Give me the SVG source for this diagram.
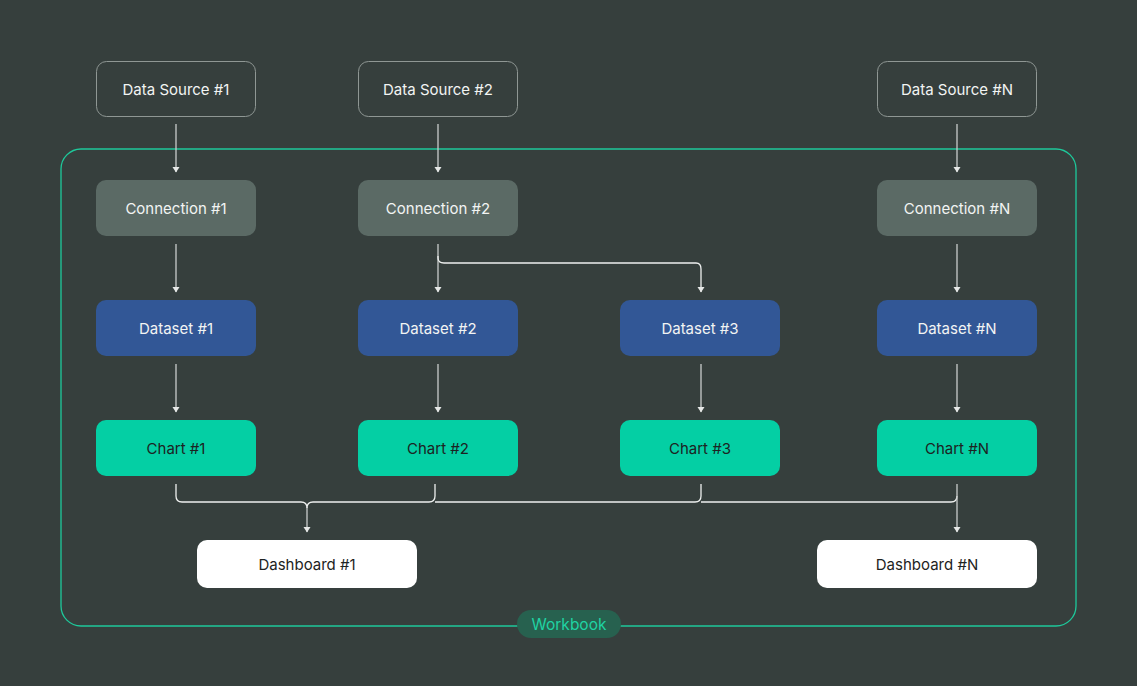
<svg xmlns="http://www.w3.org/2000/svg" width="1137" height="686" viewBox="0 0 1137 686">
<defs>
<style>
.lbl{font-family:Inter,"Liberation Sans",sans-serif;font-size:15px;text-anchor:middle;dominant-baseline:central}
.src{fill:none;stroke:#8f9794;stroke-width:1}
.conn{fill:#5b6a65}
.ds{fill:#325796}
.ch{fill:#04cfa4}
.db{fill:#ffffff}
.w{fill:#f2f4f3}
.k{fill:#1d2322}
.edge{fill:none;stroke:#c9cdcc;stroke-width:1.3}
.bus{fill:none;stroke:#eef0ef;stroke-width:1.3}
</style>
<marker id="arr" viewBox="0 0 8 8" refX="4" refY="6" markerWidth="8" markerHeight="8" orient="auto-start-reverse" markerUnits="userSpaceOnUse">
<path d="M0.5,2 L7.5,2 L4,7 Z" fill="#e6e8e7" transform="rotate(-90 4 4)"/>
</marker>
<marker id="tri" viewBox="0 0 8 6" refX="4" refY="5" markerWidth="8" markerHeight="6" orient="0" markerUnits="userSpaceOnUse">
<path d="M0.5,0 L7.5,0 L4,5.5 Z" fill="#e6e8e7"/>
</marker>
</defs>
<rect width="1137" height="686" fill="#363f3d"/>
<g id="workbook">
<rect x="61" y="149" width="1015" height="477" rx="20" fill="none" stroke="#1ec99b" stroke-width="1.3"/>
<rect x="517" y="610" width="104" height="28" rx="14" fill="#27614f"/>
<text class="lbl" x="569" y="624" fill="#1fd3a3" style="font-size:15.5px">Workbook</text>
</g>
<g id="connectors">
<path class="edge" d="M176,124V172" marker-end="url(#tri)"/>
<path class="edge" d="M438,124V172" marker-end="url(#tri)"/>
<path class="edge" d="M957,124V172" marker-end="url(#tri)"/>
<path class="edge" d="M176,244V292" marker-end="url(#tri)"/>
<path class="edge" d="M438,244V292" marker-end="url(#tri)"/>
<path class="edge" d="M957,244V292" marker-end="url(#tri)"/>
<path class="bus" d="M438,256V258Q438,263 444,263H696Q701,263 701,269V292" marker-end="url(#tri)"/>
<path class="edge" d="M176,364V412" marker-end="url(#tri)"/>
<path class="edge" d="M438,364V412" marker-end="url(#tri)"/>
<path class="edge" d="M701,364V412" marker-end="url(#tri)"/>
<path class="edge" d="M957,364V412" marker-end="url(#tri)"/>
<path class="bus" d="M176,484V496Q176,502 182,502H301Q307,502 307,508"/>
<path class="bus" d="M435,484V496Q435,502 429,502H313Q307,502 307,508"/>
<path class="bus" d="M701,484V496Q701,502 695,502H435"/>
<path class="bus" d="M957,496Q957,502 951,502H701"/>
<path class="edge" d="M307,506V532" marker-end="url(#tri)"/>
<path class="edge" d="M957,484V532" marker-end="url(#tri)"/>
</g>
<g id="ds1"><rect class="src" x="96.5" y="61.5" width="159" height="55" rx="10"/><text class="lbl w" x="176" y="89">Data Source #1</text></g>
<g id="ds2"><rect class="src" x="358.5" y="61.5" width="159" height="55" rx="10"/><text class="lbl w" x="438" y="89">Data Source #2</text></g>
<g id="dsN"><rect class="src" x="877.5" y="61.5" width="159" height="55" rx="10"/><text class="lbl w" x="957" y="89">Data Source #N</text></g>
<g id="conn1"><rect class="conn" x="96" y="180" width="160" height="56" rx="10"/><text class="lbl w" x="176" y="208">Connection #1</text></g>
<g id="conn2"><rect class="conn" x="358" y="180" width="160" height="56" rx="10"/><text class="lbl w" x="438" y="208">Connection #2</text></g>
<g id="connN"><rect class="conn" x="877" y="180" width="160" height="56" rx="10"/><text class="lbl w" x="957" y="208">Connection #N</text></g>
<g id="set1"><rect class="ds" x="96" y="300" width="160" height="56" rx="10"/><text class="lbl w" x="176" y="328">Dataset #1</text></g>
<g id="set2"><rect class="ds" x="358" y="300" width="160" height="56" rx="10"/><text class="lbl w" x="438" y="328">Dataset #2</text></g>
<g id="set3"><rect class="ds" x="620" y="300" width="160" height="56" rx="10"/><text class="lbl w" x="700" y="328">Dataset #3</text></g>
<g id="setN"><rect class="ds" x="877" y="300" width="160" height="56" rx="10"/><text class="lbl w" x="957" y="328">Dataset #N</text></g>
<g id="chart1"><rect class="ch" x="96" y="420" width="160" height="56" rx="10"/><text class="lbl k" x="176" y="448">Chart #1</text></g>
<g id="chart2"><rect class="ch" x="358" y="420" width="160" height="56" rx="10"/><text class="lbl k" x="438" y="448">Chart #2</text></g>
<g id="chart3"><rect class="ch" x="620" y="420" width="160" height="56" rx="10"/><text class="lbl k" x="700" y="448">Chart #3</text></g>
<g id="chartN"><rect class="ch" x="877" y="420" width="160" height="56" rx="10"/><text class="lbl k" x="957" y="448">Chart #N</text></g>
<g id="dash1"><rect class="db" x="197" y="540" width="220" height="48" rx="10"/><text class="lbl k" x="307" y="564">Dashboard #1</text></g>
<g id="dashN"><rect class="db" x="817" y="540" width="220" height="48" rx="10"/><text class="lbl k" x="927" y="564">Dashboard #N</text></g>
</svg>
